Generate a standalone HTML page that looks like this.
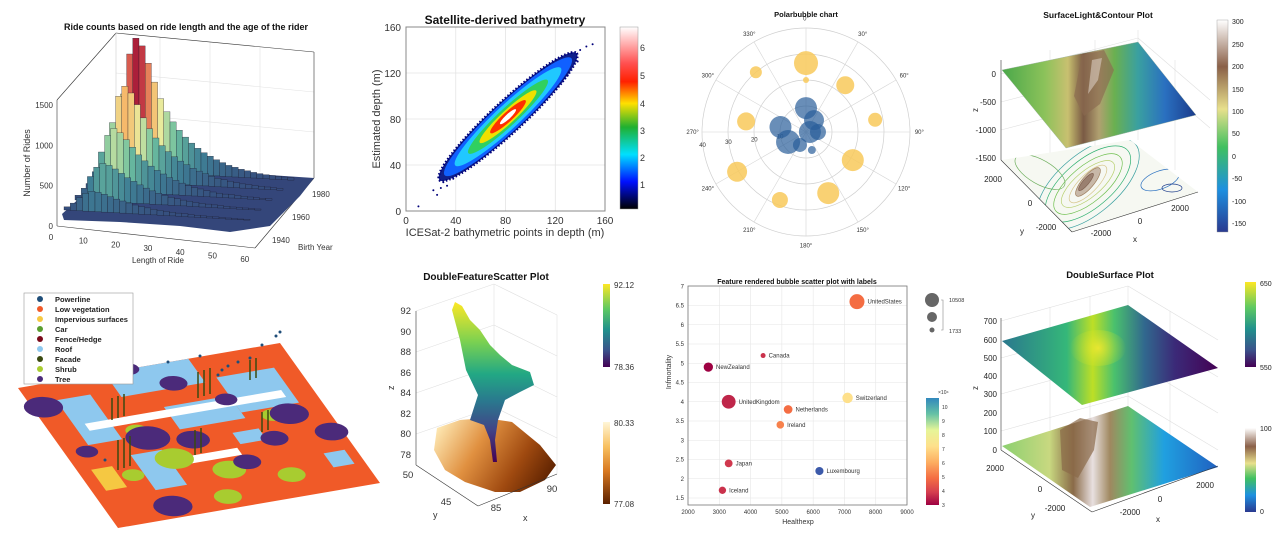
<!DOCTYPE html>
<html><head><meta charset="utf-8"><style>
html,body{margin:0;padding:0;background:#fff;}
svg{display:block;font-family:"Liberation Sans",sans-serif;}
</style></head><body>
<svg id="chart" width="1276" height="544" viewBox="0 0 1276 544" xmlns="http://www.w3.org/2000/svg">
<defs>
<linearGradient id="jet" x1="0" y1="0" x2="0" y2="1"><stop offset="0" stop-color="#ffffff"/><stop offset="0.2" stop-color="#ff5050"/><stop offset="0.3" stop-color="#ff2000"/><stop offset="0.42" stop-color="#ffe000"/><stop offset="0.55" stop-color="#20b030"/><stop offset="0.7" stop-color="#00e0ff"/><stop offset="0.85" stop-color="#0010ff"/><stop offset="1" stop-color="#000000"/></linearGradient>
<linearGradient id="terrainV" x1="0" y1="0" x2="0" y2="1"><stop offset="0" stop-color="#ffffff"/><stop offset="0.22" stop-color="#8a6048"/><stop offset="0.42" stop-color="#e8e08c"/><stop offset="0.6" stop-color="#40c060"/><stop offset="0.8" stop-color="#1e90e0"/><stop offset="1" stop-color="#2a3a90"/></linearGradient>
<linearGradient id="viridisV" x1="0" y1="0" x2="0" y2="1"><stop offset="0" stop-color="#fde725"/><stop offset="0.3" stop-color="#5ec962"/><stop offset="0.55" stop-color="#21918c"/><stop offset="0.8" stop-color="#3b528b"/><stop offset="1" stop-color="#440154"/></linearGradient>
<linearGradient id="copperV" x1="0" y1="0" x2="0" y2="1"><stop offset="0" stop-color="#fff6d8"/><stop offset="0.3" stop-color="#f8c060"/><stop offset="0.6" stop-color="#d87820"/><stop offset="1" stop-color="#5a2000"/></linearGradient>
<linearGradient id="spectralV" x1="0" y1="0" x2="0" y2="1"><stop offset="0" stop-color="#3288bd"/><stop offset="0.15" stop-color="#66c2a5"/><stop offset="0.3" stop-color="#e6f598"/><stop offset="0.45" stop-color="#fee08b"/><stop offset="0.6" stop-color="#fdae61"/><stop offset="0.75" stop-color="#f46d43"/><stop offset="0.88" stop-color="#d53e4f"/><stop offset="1" stop-color="#9e0142"/></linearGradient>
<linearGradient id="surf4" x1="1002" y1="0" x2="1196" y2="0" gradientUnits="userSpaceOnUse"><stop offset="0" stop-color="#4aa84a"/><stop offset="0.22" stop-color="#8cc25a"/><stop offset="0.34" stop-color="#c8c070"/><stop offset="0.42" stop-color="#7a5a44"/><stop offset="0.5" stop-color="#b0a070"/><stop offset="0.58" stop-color="#6ab050"/><stop offset="0.7" stop-color="#3aa0a0"/><stop offset="0.84" stop-color="#2a70c0"/><stop offset="1" stop-color="#1a3a8a"/></linearGradient>
<linearGradient id="surf8top" x1="1002" y1="0" x2="1218" y2="0" gradientUnits="userSpaceOnUse"><stop offset="0" stop-color="#2a788e"/><stop offset="0.3" stop-color="#35b779"/><stop offset="0.42" stop-color="#bddf26"/><stop offset="0.52" stop-color="#4ac16d"/><stop offset="0.66" stop-color="#31688e"/><stop offset="0.8" stop-color="#3b2a78"/><stop offset="1" stop-color="#440154"/></linearGradient>
<linearGradient id="surf8bot" x1="1002" y1="0" x2="1218" y2="0" gradientUnits="userSpaceOnUse"><stop offset="0" stop-color="#8cd070"/><stop offset="0.22" stop-color="#c8d880"/><stop offset="0.33" stop-color="#8a6a48"/><stop offset="0.42" stop-color="#e8e0e0"/><stop offset="0.5" stop-color="#a08860"/><stop offset="0.6" stop-color="#60c070"/><stop offset="0.75" stop-color="#20a0e0"/><stop offset="1" stop-color="#2060c0"/></linearGradient>
<linearGradient id="crown" x1="0" y1="302" x2="0" y2="462" gradientUnits="userSpaceOnUse"><stop offset="0" stop-color="#fde725"/><stop offset="0.25" stop-color="#7ad151"/><stop offset="0.45" stop-color="#22a884"/><stop offset="0.62" stop-color="#2a788e"/><stop offset="0.8" stop-color="#414487"/><stop offset="1" stop-color="#440154"/></linearGradient>
<linearGradient id="ground" x1="440" y1="425" x2="545" y2="490" gradientUnits="userSpaceOnUse"><stop offset="0" stop-color="#fde6b0"/><stop offset="0.35" stop-color="#e09040"/><stop offset="0.7" stop-color="#a04a10"/><stop offset="1" stop-color="#5a2000"/></linearGradient>
<radialGradient id="peak8" cx="1098" cy="348" r="28" gradientUnits="userSpaceOnUse"><stop offset="0" stop-color="#f0e830" stop-opacity="0.9"/><stop offset="1" stop-color="#bddf26" stop-opacity="0"/></radialGradient>
<clipPath id="contClip"><polygon points="1002,160 1072,232 1198,192 1130,140"/></clipPath>
</defs>
<rect x="0" y="0" width="1276" height="544" fill="#fff"/>

<!-- Panel 1 -->
<g id="p1">
<text x="186" y="30" font-size="9" font-weight="bold" text-anchor="middle" fill="#111">Ride counts based on ride length and the age of the rider</text>
<g stroke="#e2e2e2" stroke-width="0.6">
<line x1="116" y1="73" x2="314" y2="92"/><line x1="116" y1="113" x2="314" y2="132"/><line x1="160" y1="37" x2="160" y2="160"/><line x1="210" y1="42" x2="210" y2="165"/><line x1="260" y1="47" x2="260" y2="172"/>
</g>
<g stroke="#333" stroke-width="0.6" fill="none">
<line x1="57" y1="100" x2="116" y2="33"/><line x1="116" y1="33" x2="314" y2="52"/><line x1="314" y1="52" x2="314" y2="178"/><line x1="57" y1="100" x2="57" y2="226"/><line x1="57" y1="226" x2="255" y2="248"/><line x1="255" y1="248" x2="314" y2="178"/><line x1="116" y1="33" x2="116" y2="160" stroke="#ccc"/>
</g>
<polygon points="62,214 116,165 314,178 300,196 270,226 230,232 180,226 120,222 64,220" fill="#34467a"/>
<g id="rideBars"></g>
<g id="rideAxis"></g>
<text x="30" y="163" font-size="9" fill="#333" text-anchor="middle" transform="rotate(-90 30 163)">Number of Rides</text>
<text x="158" y="263" font-size="8" fill="#333" text-anchor="middle">Length of Ride</text>
<text x="298" y="250" font-size="8" fill="#333">Birth Year</text>
</g>

<!-- Panel 2 -->
<g id="p2">
<text x="505" y="24" font-size="12" font-weight="bold" text-anchor="middle" fill="#111">Satellite-derived bathymetry</text>
<g id="bathGrid"></g>
<rect x="406" y="27" width="199" height="184" fill="none" stroke="#888" stroke-width="1"/>
<g id="bathMarks"></g>
<text x="380" y="119" font-size="11" fill="#333" text-anchor="middle" transform="rotate(-90 380 119)">Estimated depth (m)</text>
<text x="505" y="236" font-size="11" fill="#333" text-anchor="middle">ICESat-2 bathymetric points in depth (m)</text>
<rect x="620" y="27" width="18" height="182" fill="url(#jet)" stroke="#999" stroke-width="0.5"/>
<g font-size="9" fill="#333">
<text x="640" y="51">6</text><text x="640" y="79">5</text><text x="640" y="107">4</text><text x="640" y="134">3</text><text x="640" y="161">2</text><text x="640" y="188">1</text></g>
</g>

<!-- Panel 3 -->
<g id="p3">
<text x="806" y="17" font-size="7.5" font-weight="bold" text-anchor="middle" fill="#111">Polarbubble chart</text>
<g id="polarGrid"></g>
<g id="polarMarks"></g>
</g>

<!-- Panel 4 -->
<g id="p4">
<text x="1098" y="18" font-size="8.5" font-weight="bold" text-anchor="middle" fill="#111">SurfaceLight&amp;Contour Plot</text>
<g stroke="#e0e0e0" stroke-width="0.6">
<line x1="1001" y1="74" x2="1138" y2="38"/><line x1="1001" y1="102" x2="1138" y2="66"/><line x1="1001" y1="130" x2="1138" y2="94"/><line x1="1138" y1="30" x2="1138" y2="140"/><line x1="1138" y1="38" x2="1210" y2="100"/><line x1="1138" y1="66" x2="1210" y2="128"/><line x1="1050" y1="50" x2="1050" y2="160"/><line x1="1095" y1="40" x2="1095" y2="150"/><line x1="1175" y1="60" x2="1175" y2="170"/>
</g>
<polygon points="1002,160 1072,232 1198,192 1130,140" fill="#f6f8f2"/>
<g clip-path="url(#contClip)" fill="none" stroke-width="0.7">
<ellipse cx="1088" cy="184" rx="62" ry="30" stroke="#3aa0a0" transform="rotate(-40 1088 184)"/>
<ellipse cx="1088" cy="184" rx="52" ry="24" stroke="#2fb070" transform="rotate(-40 1088 184)"/>
<ellipse cx="1088" cy="184" rx="42" ry="18" stroke="#70c050" transform="rotate(-40 1088 184)"/>
<ellipse cx="1088" cy="184" rx="33" ry="13" stroke="#b8d070" transform="rotate(-40 1088 184)"/>
<ellipse cx="1088" cy="184" rx="25" ry="9" stroke="#d8c890" transform="rotate(-45 1088 184)"/>
<ellipse cx="1088" cy="182" rx="18" ry="6" stroke="#a08060" fill="#c8b8a8" transform="rotate(-50 1088 182)"/>
<ellipse cx="1086" cy="182" rx="11" ry="3" stroke="#806050" fill="#9a8070" transform="rotate(-50 1086 182)"/>
<ellipse cx="1160" cy="180" rx="20" ry="9" stroke="#2a70c0" transform="rotate(-20 1160 180)"/>
<ellipse cx="1172" cy="188" rx="10" ry="4" stroke="#1a3a8a"/>
<ellipse cx="1040" cy="172" rx="28" ry="12" stroke="#70b060" transform="rotate(30 1040 172)"/>
</g>
<polygon points="1002,70 1138,42 1196,115 1066,148" fill="url(#surf4)" stroke="#9ab0a0" stroke-width="0.4"/>
<polygon points="1082,55 1104,50 1114,70 1100,104 1084,116 1074,96" fill="#8a6a50" opacity="0.65"/>
<polygon points="1092,60 1102,58 1098,80 1088,94" fill="#d8ccc0" opacity="0.6"/>
<g stroke="#333" stroke-width="0.6">
<line x1="1001" y1="60" x2="1001" y2="160"/><line x1="1001" y1="160" x2="1072" y2="232"/><line x1="1072" y1="232" x2="1198" y2="192"/>
</g>
<g font-size="8" fill="#222" text-anchor="end">
<text x="996" y="77">0</text><text x="996" y="105">-500</text><text x="996" y="133">-1000</text><text x="996" y="161">-1500</text></g>
<g font-size="8" fill="#222" text-anchor="middle">
<text x="993" y="182">2000</text><text x="1030" y="206">0</text><text x="1046" y="230">-2000</text><text x="1101" y="236">-2000</text><text x="1140" y="224">0</text><text x="1180" y="211">2000</text></g>
<text x="978" y="112" font-size="8" fill="#222" transform="rotate(-90 978 112)">z</text>
<text x="1020" y="234" font-size="8" fill="#222">y</text>
<text x="1133" y="242" font-size="8" fill="#222">x</text>
<rect x="1217" y="20" width="11" height="212" fill="url(#terrainV)" stroke="#999" stroke-width="0.4"/>
<g font-size="7" fill="#222">
<text x="1232" y="24">300</text><text x="1232" y="47">250</text><text x="1232" y="69">200</text><text x="1232" y="92">150</text><text x="1232" y="114">100</text><text x="1232" y="136">50</text><text x="1232" y="159">0</text><text x="1232" y="181">-50</text><text x="1232" y="204">-100</text><text x="1232" y="226">-150</text></g>
</g>

<!-- Panel 5 -->
<g id="p5">
<g transform="matrix(262,-45,100,140,18,388)">
<polygon points="0,0 1,0 1,1 0,1" fill="#f05a28"/>
<rect x="0.33" y="0.0" width="0.32" height="0.17" fill="#8ec8ee"/>
<rect x="0.1" y="0.12" width="0.13" height="0.32" fill="#8ec8ee"/>
<rect x="0.45" y="0.28" width="0.25" height="0.16" fill="#8ec8ee"/>
<rect x="0.7" y="0.15" width="0.22" height="0.25" fill="#8ec8ee"/>
<rect x="0.22" y="0.55" width="0.12" height="0.25" fill="#8ec8ee"/>
<rect x="0.62" y="0.52" width="0.1" height="0.08" fill="#8ec8ee"/>
<rect x="0.88" y="0.75" width="0.08" height="0.1" fill="#8ec8ee"/>
<rect x="0.14" y="0.3" width="0.75" height="0.05" fill="#ffffff"/>
<rect x="0.05" y="0.6" width="0.08" height="0.15" fill="#f5c842"/>
<rect x="0.4" y="0.62" width="0.2" height="0.05" fill="#ffffff"/>
<circle cx="0.36" cy="0.62" r="0.07" fill="#a8cc30"/><circle cx="0.52" cy="0.75" r="0.06" fill="#a8cc30"/><circle cx="0.72" cy="0.85" r="0.05" fill="#a8cc30"/><circle cx="0.18" cy="0.68" r="0.04" fill="#a8cc30"/><circle cx="0.45" cy="0.92" r="0.05" fill="#a8cc30"/><circle cx="0.8" cy="0.45" r="0.04" fill="#a8cc30"/><circle cx="0.3" cy="0.4" r="0.04" fill="#a8cc30"/>
<circle cx="0.04" cy="0.15" r="0.07" fill="#4b2a7a"/><circle cx="0.32" cy="0.46" r="0.08" fill="#4b2a7a"/><circle cx="0.47" cy="0.52" r="0.06" fill="#4b2a7a"/><circle cx="0.86" cy="0.46" r="0.07" fill="#4b2a7a"/><circle cx="0.96" cy="0.62" r="0.06" fill="#4b2a7a"/><circle cx="0.24" cy="0.92" r="0.07" fill="#4b2a7a"/><circle cx="0.6" cy="0.72" r="0.05" fill="#4b2a7a"/><circle cx="0.54" cy="0.14" r="0.05" fill="#4b2a7a"/><circle cx="0.75" cy="0.6" r="0.05" fill="#4b2a7a"/><circle cx="0.08" cy="0.48" r="0.04" fill="#4b2a7a"/><circle cx="0.42" cy="0.0" r="0.04" fill="#4b2a7a"/><circle cx="0.68" cy="0.3" r="0.04" fill="#4b2a7a"/>
</g>
<g stroke="#3a4a10" stroke-width="1.5">
<line x1="112" y1="398" x2="112" y2="420"/><line x1="118" y1="396" x2="118" y2="418"/><line x1="124" y1="394" x2="124" y2="416"/><line x1="198" y1="372" x2="198" y2="398"/><line x1="204" y1="370" x2="204" y2="396"/><line x1="210" y1="368" x2="210" y2="394"/><line x1="250" y1="360" x2="250" y2="380"/><line x1="256" y1="358" x2="256" y2="378"/><line x1="118" y1="440" x2="118" y2="470"/><line x1="124" y1="438" x2="124" y2="468"/><line x1="130" y1="436" x2="130" y2="466"/><line x1="195" y1="430" x2="195" y2="455"/><line x1="201" y1="428" x2="201" y2="453"/><line x1="262" y1="412" x2="262" y2="432"/><line x1="268" y1="410" x2="268" y2="430"/>
</g>
<g fill="#1f4e79">
<circle cx="218" cy="375" r="1.5"/><circle cx="222" cy="370" r="1.5"/><circle cx="228" cy="366" r="1.5"/><circle cx="238" cy="362" r="1.5"/><circle cx="250" cy="358" r="1.5"/><circle cx="262" cy="345" r="1.5"/><circle cx="276" cy="336" r="1.5"/><circle cx="280" cy="332" r="1.5"/><circle cx="168" cy="362" r="1.5"/><circle cx="200" cy="356" r="1.5"/><circle cx="105" cy="460" r="1.5"/></g>
<rect x="24" y="293" width="109" height="91" fill="#fff" stroke="#999" stroke-width="0.6"/>
<g font-size="7.5" font-weight="bold" fill="#222">
<circle cx="40" cy="299" r="3" fill="#1f4e79"/><text x="55" y="302">Powerline</text>
<circle cx="40" cy="309" r="3" fill="#f05a28"/><text x="55" y="312">Low vegetation</text>
<circle cx="40" cy="319" r="3" fill="#f5c842"/><text x="55" y="322">Impervious surfaces</text>
<circle cx="40" cy="329" r="3" fill="#5a9e30"/><text x="55" y="332">Car</text>
<circle cx="40" cy="339" r="3" fill="#7a0a1a"/><text x="55" y="342">Fence/Hedge</text>
<circle cx="40" cy="349" r="3" fill="#8ec8ee"/><text x="55" y="352">Roof</text>
<circle cx="40" cy="359" r="3" fill="#3a4a10"/><text x="55" y="362">Facade</text>
<circle cx="40" cy="369" r="3" fill="#a8cc30"/><text x="55" y="372">Shrub</text>
<circle cx="40" cy="379" r="3" fill="#4b2a7a"/><text x="55" y="382">Tree</text>
</g>
</g>

<!-- Panel 6 -->
<g id="p6">
<text x="486" y="280" font-size="10" font-weight="bold" text-anchor="middle" fill="#111">DoubleFeatureScatter Plot</text>
<g stroke="#e0e0e0" stroke-width="0.6">
<line x1="494" y1="284" x2="494" y2="440"/><line x1="557" y1="315" x2="557" y2="474"/><line x1="416" y1="311" x2="494" y2="284"/><line x1="494" y1="284" x2="557" y2="315"/><line x1="416" y1="352" x2="494" y2="325"/><line x1="416" y1="393" x2="494" y2="366"/><line x1="416" y1="434" x2="494" y2="407"/><line x1="494" y1="325" x2="557" y2="356"/><line x1="494" y1="366" x2="557" y2="397"/><line x1="494" y1="407" x2="557" y2="438"/></g>
<polygon points="437,428 460,420 485,418 512,422 540,445 556,465 545,480 520,492 495,492 465,482 445,470 434,450" fill="url(#ground)"/>
<polygon points="493,462 490,440 484,425 470,420 478,395 466,370 460,340 452,310 455,302 462,306 470,320 480,330 490,345 500,355 512,365 530,372 534,385 520,392 505,400 498,420 495,440 497,462" fill="url(#crown)"/>
<g stroke="#333" stroke-width="0.6"><line x1="416" y1="311" x2="416" y2="465"/><line x1="416" y1="465" x2="478" y2="506"/><line x1="478" y1="506" x2="557" y2="474"/></g>
<g font-size="9.5" fill="#333" text-anchor="end">
<text x="411" y="314">92</text><text x="411" y="335">90</text><text x="411" y="355">88</text><text x="411" y="376">86</text><text x="411" y="396">84</text><text x="411" y="417">82</text><text x="411" y="437">80</text><text x="411" y="458">78</text></g>
<g font-size="9.5" fill="#333" text-anchor="middle">
<text x="408" y="478">50</text><text x="446" y="505">45</text><text x="496" y="511">85</text><text x="552" y="492">90</text></g>
<text x="394" y="390" font-size="9" fill="#333" transform="rotate(-90 394 390)">z</text>
<text x="433" y="518" font-size="9" fill="#333">y</text>
<text x="523" y="521" font-size="9" fill="#333">x</text>
<rect x="603" y="284" width="7" height="83" fill="url(#viridisV)"/>
<rect x="603" y="422" width="7" height="82" fill="url(#copperV)"/>
<g font-size="8" fill="#333"><text x="614" y="288">92.12</text><text x="614" y="370">78.36</text><text x="614" y="426">80.33</text><text x="614" y="507">77.08</text></g>
</g>

<!-- Panel 7 -->
<g id="p7">
<text x="797" y="284" font-size="7" font-weight="bold" text-anchor="middle" fill="#111">Feature rendered bubble scatter plot with labels</text>
<g id="bubbleGrid"></g>
<rect x="688" y="286" width="219" height="219" fill="none" stroke="#777" stroke-width="0.8"/>
<g id="bubbleMarks"></g>
<text x="798" y="524" font-size="7" fill="#333" text-anchor="middle">Healthexp</text>
<text x="671" y="372" font-size="7" fill="#333" text-anchor="middle" transform="rotate(-90 671 372)">Infmortality</text>
<g fill="#666"><circle cx="932" cy="300" r="7"/><circle cx="932" cy="317" r="5"/><circle cx="932" cy="330" r="2.5"/></g>
<path d="M941,300 H943 V330 H941" fill="none" stroke="#888" stroke-width="0.6"/>
<text x="949" y="302" font-size="5.5" fill="#333">10508</text>
<text x="949" y="333" font-size="5.5" fill="#333">1733</text>
<rect x="926" y="398" width="13" height="107" fill="url(#spectralV)"/>
<text x="938" y="394" font-size="5" fill="#333">×10⁴</text>
<g id="bubbleCbar"></g>
</g>

<!-- Panel 8 -->
<g id="p8">
<text x="1110" y="278" font-size="9.5" font-weight="bold" text-anchor="middle" fill="#111">DoubleSurface Plot</text>
<g stroke="#e0e0e0" stroke-width="0.6">
<line x1="1001" y1="321" x2="1128" y2="286"/><line x1="1001" y1="358" x2="1128" y2="323"/><line x1="1001" y1="394" x2="1128" y2="359"/><line x1="1001" y1="431" x2="1128" y2="396"/><line x1="1128" y1="286" x2="1218" y2="340"/><line x1="1128" y1="323" x2="1218" y2="377"/><line x1="1128" y1="359" x2="1218" y2="413"/><line x1="1128" y1="396" x2="1218" y2="450"/><line x1="1128" y1="286" x2="1128" y2="406"/><line x1="1050" y1="307" x2="1050" y2="430"/><line x1="1090" y1="296" x2="1090" y2="418"/><line x1="1170" y1="311" x2="1170" y2="438"/></g>
<polygon points="1002,446 1128,406 1218,467 1090,507" fill="url(#surf8bot)"/>
<polygon points="1060,430 1080,418 1098,422 1094,450 1078,478 1062,470" fill="#8a6a48" opacity="0.7"/>
<polygon points="1002,341 1128,305 1218,368 1082,405" fill="url(#surf8top)"/>
<ellipse cx="1098" cy="348" rx="28" ry="18" fill="url(#peak8)"/>
<g stroke="#333" stroke-width="0.6"><line x1="1001" y1="318" x2="1001" y2="450"/><line x1="1001" y1="450" x2="1092" y2="512"/><line x1="1092" y1="512" x2="1218" y2="466"/></g>
<g font-size="8" fill="#222" text-anchor="end">
<text x="997" y="324">700</text><text x="997" y="343">600</text><text x="997" y="361">500</text><text x="997" y="379">400</text><text x="997" y="397">300</text><text x="997" y="416">200</text><text x="997" y="434">100</text><text x="997" y="453">0</text></g>
<g font-size="8" fill="#222" text-anchor="middle">
<text x="995" y="471">2000</text><text x="1040" y="492">0</text><text x="1055" y="511">-2000</text><text x="1130" y="515">-2000</text><text x="1160" y="502">0</text><text x="1205" y="488">2000</text></g>
<text x="978" y="390" font-size="8" fill="#222" transform="rotate(-90 978 390)">z</text>
<text x="1031" y="518" font-size="8" fill="#222">y</text>
<text x="1156" y="522" font-size="8" fill="#222">x</text>
<rect x="1245" y="282" width="11" height="85" fill="url(#viridisV)"/>
<rect x="1245" y="428" width="11" height="84" fill="url(#terrainV)"/>
<g font-size="7" fill="#222"><text x="1260" y="286">650</text><text x="1260" y="370">550</text><text x="1260" y="431">100</text><text x="1260" y="514">0</text></g>
</g>
</svg>
<script>
const NS='http://www.w3.org/2000/svg';
function mk(tag,attrs,parent){const e=document.createElementNS(NS,tag);for(const k in attrs)e.setAttribute(k,attrs[k]);parent.appendChild(e);return e;}

// ---------- Panel 1 data ----------
const rideCountsRow1=[120,420,950,1450,1650,1560,1350,1120,920,760,640,540,460,390,330,280,240,200,170,140,120,100,85,70,60,50,45,40,35,30];
const rideCountsRow2=[100,320,720,1050,1180,1100,960,800,670,560,470,400,340,290,250,210,180,150,125,105,90,75,62,52,45,40,35,30,26,22];
const rideCountsRow3=[80,230,480,690,780,730,650,560,470,400,340,290,250,210,180,150,125,105,90,75,62,52,45,40,35,30,26,22,20,18];
const rideCountsRow4=[60,150,300,420,470,450,410,360,310,270,230,195,165,140,120,100,85,72,62,52,45,40,35,30,26,22,20,18,16,14];
const rideCountsRow5=[40,90,160,220,250,240,220,195,170,150,130,110,95,82,70,60,52,45,40,35,30,26,22,20,18,16,14,12,10,10];
const rideCountTicks=[0,500,1000,1500];
const rideLengthTicks=[0,10,20,30,40,50,60];
const birthYearTicks=[1940,1960,1980];
const rideStops=[[0,[52,70,122]],[300,[63,127,149]],[600,[108,191,159]],[900,[232,238,160]],[1200,[247,181,103]],[1500,[210,74,74]],[1700,[158,16,53]]];
function rideColor(v){for(let i=1;i<rideStops.length;i++){if(v<=rideStops[i][0]){const a=rideStops[i-1],b=rideStops[i],t=(v-a[0])/(b[0]-a[0]);return 'rgb('+a[1].map((c,j)=>Math.round(c+(b[1][j]-c)*t)).join(',')+')';}}return 'rgb(158,16,53)';}
const rideH=v=>v*0.0807;
const rideAxisY=v=>226-rideH(v);
(function(){
 const g=document.getElementById('rideBars');
 const rows=[rideCountsRow1,rideCountsRow2,rideCountsRow3,rideCountsRow4,rideCountsRow5];
 rows.forEach((row,r)=>{row.forEach((c,i)=>{
   const x=108-r*11+i*6.2, yb=170+r*10+i*0.35, h=rideH(c);
   const b=mk('rect',{x:x.toFixed(1),y:(yb-h).toFixed(1),width:6.2,height:h.toFixed(1),fill:rideColor(c),stroke:'#1a1a2a','stroke-width':0.3},g);
   
   
 });});
 const a=document.getElementById('rideAxis');
 rideCountTicks.forEach(v=>{
   const t=mk('text',{x:53,y:rideAxisY(v)+3,'font-size':8,'text-anchor':'end',fill:'#333'},a);t.textContent=v;
   
   
 });
 rideLengthTicks.forEach(v=>{
   const t=mk('text',{x:51+v*3.23,y:240+v*0.37,'font-size':8,'text-anchor':'middle',fill:'#333'},a);t.textContent=v;
   
   
 });
 birthYearTicks.forEach(v=>{
   const f=(v-1940)/40;
   const t=mk('text',{x:272+f*40,y:243-f*46,'font-size':8,fill:'#333'},a);t.textContent=v;
   
   
 });
})();

// ---------- Panel 2 data ----------
const bathTicks=[0,40,80,120,160];
const bathLevelColors=['#10208a','#1060ff','#20c8ff','#30d060','#f0e000','#ff3000','#ffffff'];
const bathLevelMajor=[78,72,60,45,32,20,9];
const bathLevelMinor=[13,12,10,7.5,5.5,4,2];
const bathCenter=[82,82];
const bathOutX=[10,22,25,28,30,33,36,38,40,35,45,48,52,55,60,65,70,75,100,105,110,115,118,120,122,125,128,130,132,135,138,140,145,150,95,90,85,60,50,42,112,125,108,130];
const bathOutY=[4,18,14,20,25,22,30,28,34,38,40,50,46,52,60,68,62,78,96,108,100,112,120,110,125,118,130,122,128,136,130,140,143,145,100,82,95,55,52,44,115,112,104,118];
const bx=v=>406+v*1.244, by=v=>211-v*1.15;
(function(){
 const gg=document.getElementById('bathGrid');
 bathTicks.forEach(v=>{
   if(v>0&&v<160){
     const l1=mk('line',{x1:bx(v),y1:27,x2:bx(v),y2:211,stroke:'#e4e4e4','stroke-width':0.8},gg);
     
     
     const l2=mk('line',{x1:406,y1:by(v),x2:605,y2:by(v),stroke:'#e4e4e4','stroke-width':0.8},gg);
     
     
   }
   const tx=mk('text',{x:bx(v),y:224,'font-size':10,'text-anchor':'middle',fill:'#333'},gg);tx.textContent=v;
   
   
   const ty=mk('text',{x:401,y:by(v)+4,'font-size':10,'text-anchor':'end',fill:'#333'},gg);ty.textContent=v;
   
   
 });
 const g=document.getElementById('bathMarks');
 const ang=Math.atan2(-1.15,1.244)*180/Math.PI, unit=Math.hypot(1.244,1.15);
 const cx=bx(bathCenter[0]), cy=by(bathCenter[1]);
 bathOutX.forEach((v,i)=>{
   const d=mk('circle',{cx:bx(v),cy:by(bathOutY[i]),r:1,fill:'#00007a'},g);
   
   
 });
 bathLevelColors.forEach((c,i)=>{
   const attrs={cx:cx,cy:cy,rx:bathLevelMajor[i]*unit*0.707,ry:bathLevelMinor[i]*unit*0.707,fill:c,transform:'rotate('+ang.toFixed(2)+' '+cx+' '+cy+')'};
   if(i===0){attrs.stroke='#00007a';attrs['stroke-width']=2.5;attrs['stroke-dasharray']='1.5 2';}
   const e=mk('ellipse',attrs,g);
   
   
 });
})();

// ---------- Panel 3 data ----------
const polarRingTicks=[10,20,30,40];
const polarAngleTicks=[0,30,60,90,120,150,180,210,240,270,300,330];
const yellowTheta=[0,0,320,40,80,280,121,240,160,201];
const yellowR=[26.5,20,30,23.5,27,23.4,21,30.6,25,28];
const yellowSize=[12,3,6,9,7,9,11,10,11,8];
const blueTheta=[0,34,281,90,241,205,162,90];
const blueR=[9.2,5.5,10,1.5,7.9,5.5,7.3,4.6];
const blueSize=[11,10,11,11,12,7,4,8];
(function(){
 const C=[806,132],R=104,RMAX=40;
 const pt=(th,r)=>{const a=th*Math.PI/180;return [C[0]+Math.sin(a)*r/RMAX*R, C[1]-Math.cos(a)*r/RMAX*R];};
 const g=document.getElementById('polarGrid');
 polarRingTicks.forEach(v=>{
   const c=mk('circle',{cx:C[0],cy:C[1],r:v/RMAX*R,fill:'none',stroke:'#cfcfcf','stroke-width':0.7},g);
   
   
   const p=pt(264,v);
   const t=mk('text',{x:p[0],y:p[1]+4,'font-size':6,'text-anchor':'middle',fill:'#333'},g);t.textContent=v;
   
   
 });
 polarAngleTicks.forEach(a=>{
   const e=pt(a,RMAX);
   const l=mk('line',{x1:C[0],y1:C[1],x2:e[0],y2:e[1],stroke:'#d6d6d6','stroke-width':0.6},g);
   
   
   const p=pt(a,RMAX*1.09);
   const t=mk('text',{x:p[0],y:p[1]+2,'font-size':6,'text-anchor':'middle',fill:'#333'},g);t.textContent=a+'°';
   
   
 });
 const m=document.getElementById('polarMarks');
 yellowTheta.forEach((th,i)=>{
   const p=pt(th,yellowR[i]);
   const c=mk('circle',{cx:p[0],cy:p[1],r:yellowSize[i],fill:'#f8c95a','fill-opacity':0.85},m);
   
   
 });
 blueTheta.forEach((th,i)=>{
   const p=pt(th,blueR[i]);
   const c=mk('circle',{cx:p[0],cy:p[1],r:blueSize[i],fill:'#2a5e9a','fill-opacity':0.7},m);
   
   
 });
})();

// ---------- Panel 7 data ----------
const countryNames=['UnitedStates','Canada','NewZealand','UnitedKingdom','Switzerland','Netherlands','Ireland','Japan','Luxembourg','Iceland'];
const healthExp=[7400,4400,2650,3300,7100,5200,4950,3300,6200,3100];
const infMortality=[6.6,5.2,4.9,4.0,4.1,3.8,3.4,2.4,2.2,1.7];
const bubbleSizeValue=[10508,1733,5500,9500,6500,5000,4000,4200,4500,3800];
const bubbleColorValue=[5.0,3.8,3.0,3.6,7.0,5.0,5.3,3.9,10.0,3.8];
const healthTicks=[2000,3000,4000,5000,6000,7000,8000,9000];
const mortTicks=[1.5,2,2.5,3,3.5,4,4.5,5,5.5,6,6.5,7];
const colorTicks=[3,4,5,6,7,8,9,10];
const hx=v=>688+(v-2000)*0.03129, my=v=>498-(v-1.5)*38.5;
const spec=[[3,[158,1,66]],[4,[213,62,79]],[5,[244,109,67]],[6,[253,174,97]],[7,[254,224,139]],[8,[230,245,152]],[9,[102,194,165]],[10,[60,90,170]]];
function specColor(v){for(let i=1;i<spec.length;i++){if(v<=spec[i][0]){const a=spec[i-1],b=spec[i],t=(v-a[0])/(b[0]-a[0]);return 'rgb('+a[1].map((c,j)=>Math.round(c+(b[1][j]-c)*t)).join(',')+')';}}return 'rgb(60,90,170)';}
(function(){
 const g=document.getElementById('bubbleGrid');
 healthTicks.forEach(v=>{
   const l=mk('line',{x1:hx(v),y1:286,x2:hx(v),y2:505,stroke:'#e6e6e6','stroke-width':0.6},g);
   
   
   const t=mk('text',{x:hx(v),y:514,'font-size':6,'text-anchor':'middle',fill:'#333'},g);t.textContent=v;
   
   
 });
 mortTicks.forEach(v=>{
   const l=mk('line',{x1:688,y1:my(v),x2:907,y2:my(v),stroke:'#e6e6e6','stroke-width':0.6},g);
   
   
   const t=mk('text',{x:684,y:my(v)+2,'font-size':6,'text-anchor':'end',fill:'#333'},g);t.textContent=v;
   
   
 });
 const m=document.getElementById('bubbleMarks');
 countryNames.forEach((n,i)=>{
   const r=2.5+(bubbleSizeValue[i]-1733)/(10508-1733)*5;
   const c=mk('circle',{cx:hx(healthExp[i]),cy:my(infMortality[i]),r:r.toFixed(2),fill:specColor(bubbleColorValue[i])},m);
   
   
   const t=mk('text',{x:hx(healthExp[i])+r+3,y:my(infMortality[i])+2,'font-size':6,fill:'#333'},m);t.textContent=n;
   
   
 });
 const cb=document.getElementById('bubbleCbar');
 colorTicks.forEach(v=>{
   const t=mk('text',{x:942,y:505-(v-3)*14+2,'font-size':5,fill:'#333'},cb);t.textContent=v;
   
   
 });
})();
</script>
</body></html>
